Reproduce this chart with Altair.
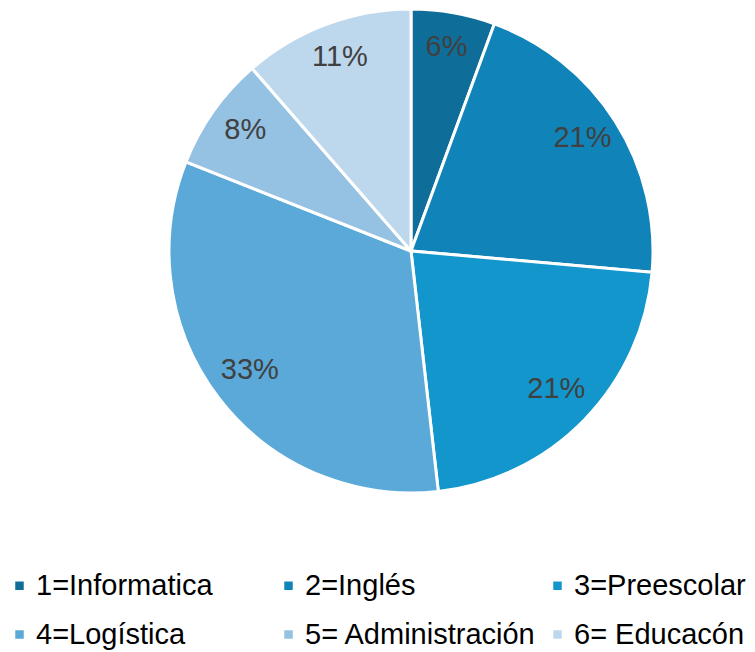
import altair as alt
import pandas as pd

categories = ["1=Informatica", "2=Inglés", "3=Preescolar", "4=Logística", "5= Administración", "6= Educacón"]
values = [5.6, 20.8, 21.8, 32.8, 7.6, 11.4]
labels = ["6%", "21%", "21%", "33%", "8%", "11%"]
colors = ["#0E6E99", "#1083B8", "#1296CC", "#5AA9D8", "#95C1E2", "#BDD7EC"]

df = pd.DataFrame({
    "cat": categories,
    "value": values,
    "label": labels,
    "idx": list(range(len(categories))),
})

CX, CY = 403, 243

base = alt.Chart(df).encode(
    theta=alt.Theta("value:Q", stack=True),
    order=alt.Order("idx:Q"),
    x=alt.value(CX),
    y=alt.value(CY),
)

pie = base.mark_arc(outerRadius=242, stroke="white", strokeWidth=3).encode(
    color=alt.Color(
        "cat:N",
        scale=alt.Scale(domain=categories, range=colors),
        sort=categories,
        legend=alt.Legend(
            title=None,
            orient="none",
            legendX=-3,
            legendY=563,
            padding=0,
            columns=3,
            direction="horizontal",
            gridAlign="all",
            symbolType="square",
            symbolSize=72,
            symbolStrokeWidth=0,
            labelFont="Liberation Sans",
            labelFontSize=29,
            labelColor="#000000",
            labelOffset=2,
            labelLimit=400,
            columnPadding=6,
            rowPadding=19,
        ),
    )
)

text = base.mark_text(
    radius=203, font="Liberation Sans", fontSize=29, color="#404040", dy=-4
).encode(text="label:N")

chart = (pie + text).properties(
    width=739, height=644, padding=0, autosize=alt.AutoSizeParams(type="none")
).configure_view(stroke=None)

chart.save("out.html", embed_options={"renderer": "svg", "actions": False})
